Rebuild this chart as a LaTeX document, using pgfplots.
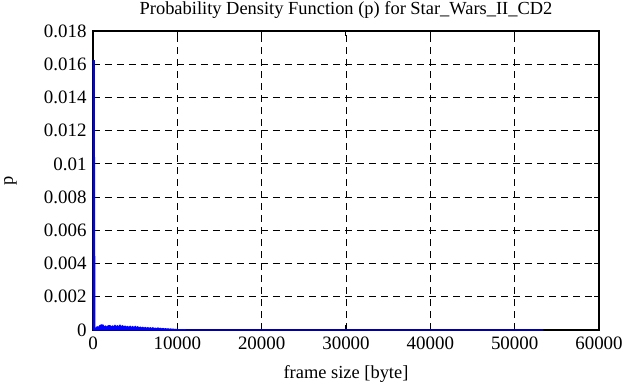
\documentclass[border=0pt]{standalone}
\usepackage{pgfplots}
\pgfplotsset{compat=1.18}
\usepackage{fontspec}
\setmainfont{Liberation Serif}
\begin{document}
\begin{tikzpicture}
\useasboundingbox (-93bp,-55bp) rectangle (538bp,330bp);
\begin{axis}[
  at={(0,0)}, anchor=south west,
  scale only axis,
  width=506bp, height=299bp,
  xmin=0, xmax=60000, ymin=0, ymax=0.018,
  xtick={0,10000,...,60000},
  ytick={0,0.002,...,0.018},
  scaled x ticks=false, scaled y ticks=false,
  /pgf/number format/assume math mode=true,
  xticklabel style={/pgf/number format/set thousands separator={}, yshift=-3bp},
  yticklabel style={/pgf/number format/fixed, /pgf/number format/precision=3, xshift=-3bp},
  tick label style={font=\fontsize{19}{21}\selectfont},
  xlabel style={font=\fontsize{18.5}{20}\selectfont, at={(axis description cs:0.5,-0.148)}, anchor=center},
  ylabel style={font=\fontsize{18.5}{20}\selectfont, at={(axis description cs:-0.163,0.5)}, anchor=center},
  title style={font=\fontsize{18.5}{21}\selectfont, at={(axis description cs:0.5,1.034)}, anchor=base},
  title={Probability Density Function (p) for Star\_Wars\_II\_CD2},
  xlabel={frame size [byte]},
  ylabel={p},
  grid=major,
  major grid style={black, dash pattern=on 7bp off 5bp, line width=0.9pt},
  tick align=inside,
  major tick length=5bp,
  tick style={black, line width=1pt},
  axis line style={line width=1.5pt},
]
\addplot[blue, line width=1.5pt, fill=blue] coordinates {
(0,0) (40,0.0162) (120,0.0162) (200,0.0001) (350,0.00008) (500,0.00018) (650,0.00012)
(800,0.00025) (1000,0.00030) (1200,0.00028) (1350,0.00015) (1500,0.00022) (1650,0.00014)
(1800,0.00024) (2000,0.00025) (2150,0.00016) (2300,0.00023) (2450,0.00017) (2600,0.00026)
(2750,0.00018) (2900,0.00024) (3050,0.00017) (3200,0.00027) (3350,0.00018) (3500,0.00024)
(3650,0.00016) (3800,0.00022) (3950,0.00015) (4100,0.00020) (4250,0.00014) (4400,0.00021)
(4550,0.00013) (4700,0.00019) (4850,0.00013) (5000,0.00020) (5150,0.00012) (5300,0.00018)
(5450,0.00011) (5600,0.00016) (5750,0.00010) (5900,0.00015) (6050,0.00009) (6200,0.00014)
(6350,0.00009) (6500,0.00013) (6650,0.00008) (6800,0.00012) (6950,0.00008) (7100,0.00012)
(7250,0.00007) (7400,0.00010) (7550,0.00006) (7700,0.00011) (7850,0.00006) (8000,0.00009)
(8150,0.00005) (8300,0.00008) (8450,0.00004) (8600,0.00007) (8750,0.00004) (8900,0.00006)
(9050,0.00003) (9200,0.00005) (9350,0.00003) (9500,0.00004) (9650,0.00002) (9800,0.00003)
(10100,0.00001) (11000,0) (20000,0) (30000,0) (40000,0) (53400,0)
} \closedcycle;
\end{axis}
\end{tikzpicture}
\end{document}
